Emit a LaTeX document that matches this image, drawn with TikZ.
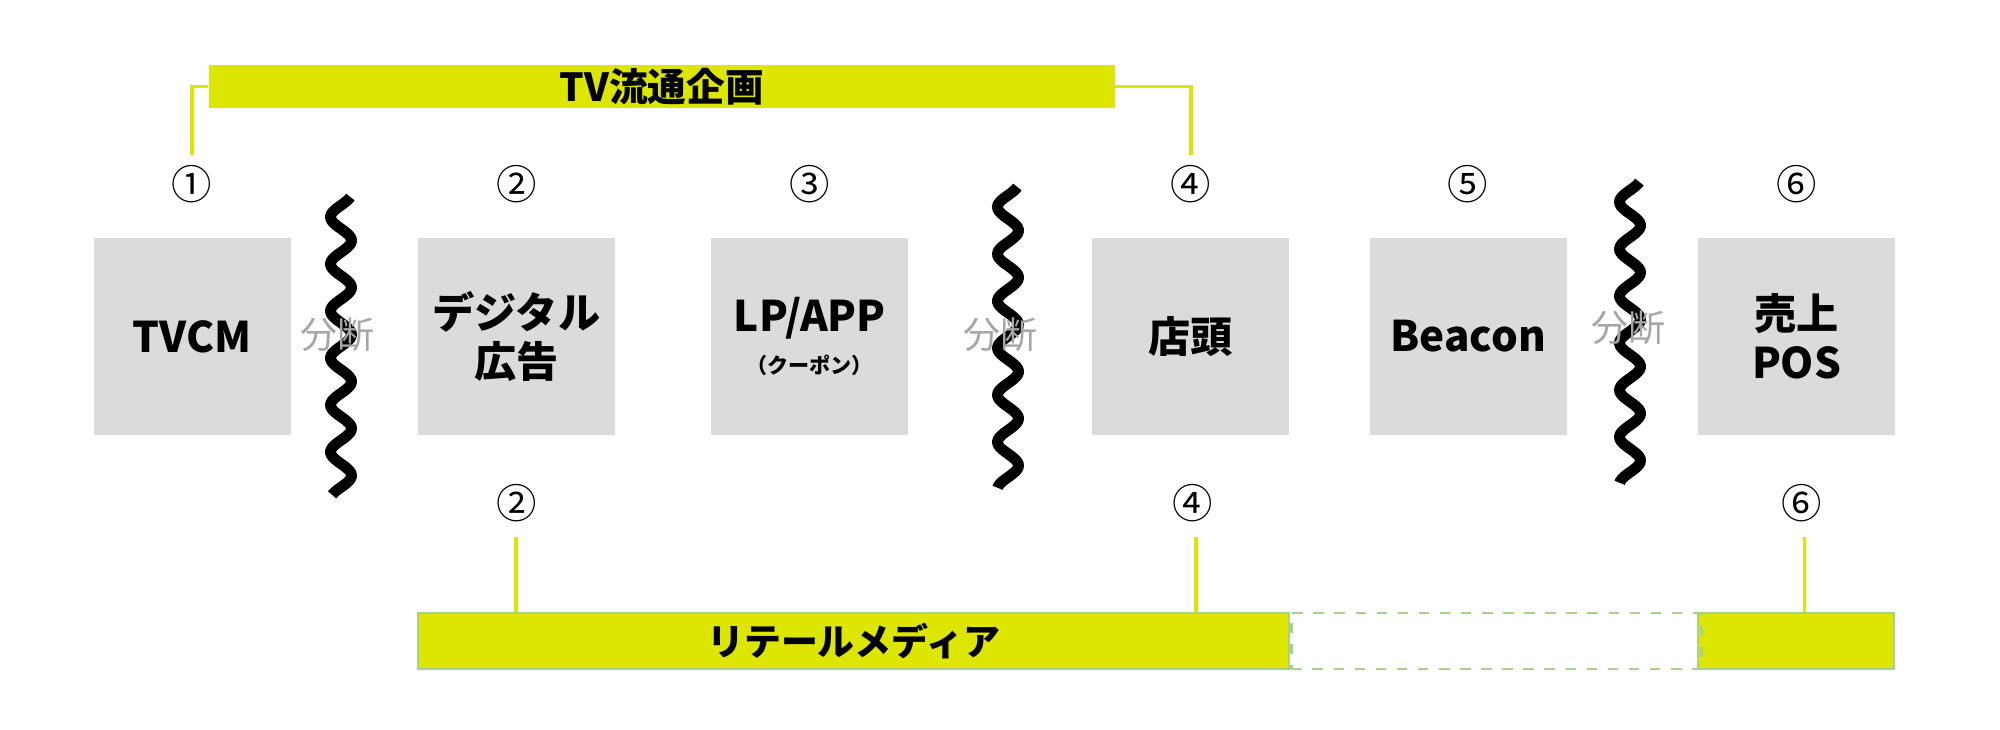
\documentclass[tikz,border=0pt]{standalone}
\usepackage{fontspec}
\setmainfont{Noto Sans CJK JP}
\usepackage{tikz}
\usetikzlibrary{calc, positioning}
\definecolor{lime}{HTML}{DCE600}
\definecolor{boxgray}{HTML}{DBDBDB}
\definecolor{dashgreen}{HTML}{A9D18E}
\definecolor{cutgray}{HTML}{A6A6A6}
\newcommand{\smallnote}{\fontsize{6}{7}\selectfont}

\begin{document}
\begin{tikzpicture}[
      font=\bfseries\fontsize{12}{14}\selectfont,
      item/.style={fill=boxgray, minimum width=1.97cm, minimum height=1.97cm,
                   align=center, inner sep=2pt},
      num/.style={font=\fontsize{11.5}{12}\selectfont, inner sep=0pt},
      band/.style={fill=lime, minimum height=0.43cm, inner sep=0pt,
                   font=\bfseries\fontsize{11}{12}\selectfont},
      lowband/.style={band, minimum height=0.56cm, draw=dashgreen, line width=0.5pt},
      gapband/.style={draw=dashgreen, dashed, line width=0.8pt,
                      minimum height=0.56cm, inner sep=0pt},
      link/.style={draw=lime, line width=1.1pt},
      cutlbl/.style={font=\fontsize{10.5}{12}\selectfont, text=cutgray, inner sep=0pt},
      cut/.style={draw=black, line width=3.1pt}
  ]
    \useasboundingbox (0,0) rectangle (20,-7.29);
    % stages
    \node[item] (tvcm) at (1.92,-3.365) {TVCM};
    \node[item, right=1.26cm of tvcm] (digi) {デジタル\\広告};
    \node[item, right=0.95cm of digi] (lp) {LP/APP\\[-2pt]{\smallnote （クーポン）}};
    \node[item, right=1.825cm of lp] (shop) {店頭};
    \node[item, right=0.79cm of shop] (beacon) {Beacon};
    \node[item, right=1.30cm of beacon] (pos) {売上\\POS};
    % numbers
    \node[num] (t1) at ($(tvcm.north)+(0,0.53)$) {①};
    \node[num] (t2) at ($(digi.north)+(0,0.53)$) {②};
    \node[num] (t3) at ($(lp.north)+(0,0.53)$) {③};
    \node[num] (t4) at ($(shop.north)+(0,0.53)$) {④};
    \node[num] (t5) at ($(beacon.north)+(0,0.53)$) {⑤};
    \node[num] (t6) at ($(pos.north)+(0,0.53)$) {⑥};
    \node[num] (b2) at ($(digi.south)+(0,-0.67)$) {②};
    \node[num] (b4) at ($(shop.south)+(0.02,-0.67)$) {④};
    \node[num] (b6) at ($(pos.south)+(0.05,-0.67)$) {⑥};
    % bands
    \node[band, minimum width=9.06cm, anchor=west] (tvplan) at (2.08,-0.865) {TV流通企画};
    \coordinate (lowline) at (0,-6.41);
    \node[lowband, minimum width=8.71cm, anchor=west, font=\bfseries\fontsize{10.5}{12}\selectfont]
      (media) at (digi.west |- lowline) {リテールメディア};
    \node[lowband, minimum width=1.96cm, anchor=west] (posband) at (pos.west |- lowline) {};
    \node[gapband, minimum width=4.10cm, right=0pt of media] (gap) {};
    \draw[link] (tvplan.west) -| ([yshift=1mm]t1.north);
    \draw[link] (tvplan.east) -| ([yshift=1mm]t4.north);
    \draw[link] ([yshift=-1.5mm]b2.south) -- (b2.south |- media.north);
    \draw[link] ([yshift=-1.5mm, xshift=0.3mm]b4.south) -- ([xshift=0.3mm]b4.south |- media.north);
    \draw[link] ([yshift=-1.5mm, xshift=0.3mm]b6.south) -- ([xshift=0.3mm]b6.south |- posband.north);
    % cuts
    \foreach \cx/\top/\len/\lx/\ly [count=\i] in
        {3.41/1.97/2.98/3.37/3.35, 10.08/1.87/3.01/10.00/3.35, 16.30/1.82/3.01/16.28/3.28}{
      \draw[cut] plot[domain=0:\len, samples=150, variable=\t]
        ({\cx+0.105*cos(360*(\t+0.035)/0.47)}, {-\top-\t});
      \node[cutlbl] (cut\i) at (\lx,-\ly) {分断};
    }
\end{tikzpicture}
\end{document}
